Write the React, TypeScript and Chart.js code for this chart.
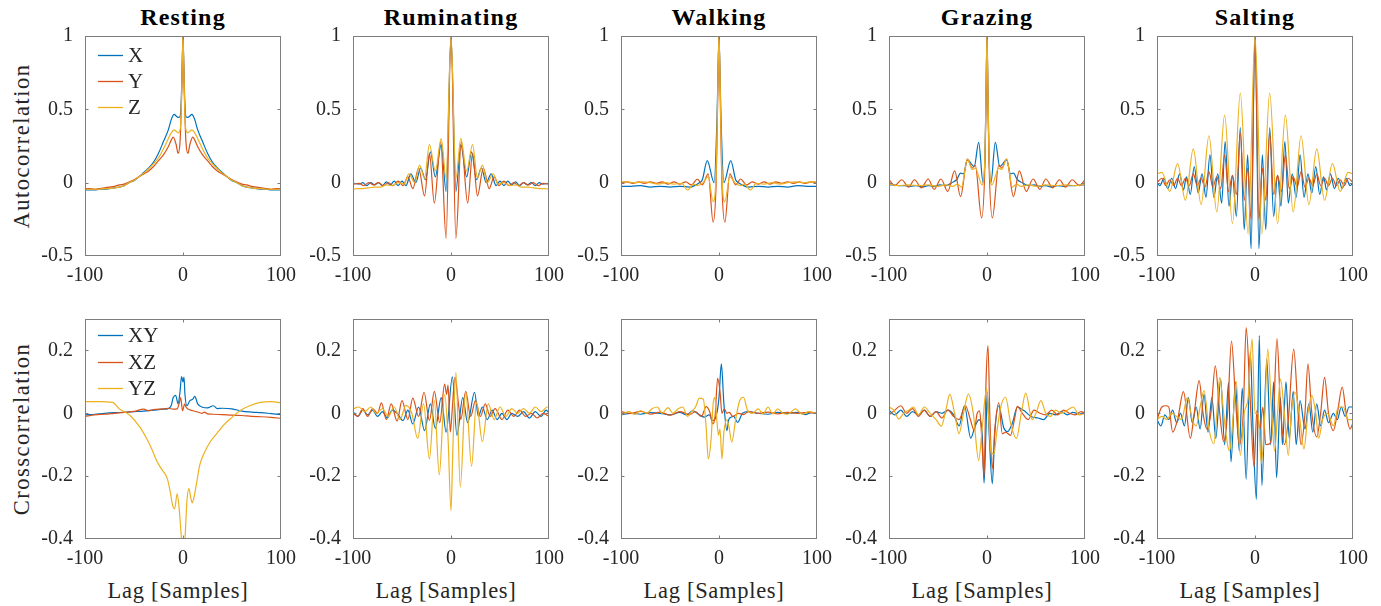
import React, { useEffect, useRef } from "react";
import { Chart, registerables } from "chart.js";

Chart.register(...registerables);

// ---------- labels / ticks ----------
const titles = ["Resting", "Ruminating", "Walking", "Grazing", "Salting"];
const autoLegend = ["X", "Y", "Z"];
const crossLegend = ["XY", "XZ", "YZ"];
const yAxisLabels = ["Autocorrelation", "Crosscorrelation"];
const xAxisLabel = "Lag [Samples]";
const xTickValues = [-100, 0, 100];
const autoYTicks = [-0.5, 0, 0.5, 1];
const crossYTicks = [-0.4, -0.2, 0, 0.2];
const COLORS = ["#0072BD", "#D95319", "#EDB120"];

// ---------- autocorrelation (symmetric, listed for lag >= 0) [lag, value] ----------
const restingX = [[0,1],[1,0.75],[2,0.52],[3,0.45],[5,0.445],[7,0.455],[9,0.466],[12,0.43],[15,0.36],[20,0.28],[25,0.2],[30,0.14],[35,0.1],[40,0.07],[45,0.04],[50,0.014],[55,0.0],[60,-0.02],[65,-0.03],[70,-0.035],[75,-0.04],[80,-0.045],[85,-0.045],[90,-0.05],[95,-0.05],[100,-0.05]];
const restingY = [[0,1],[1,0.7],[2,0.45],[3,0.28],[5,0.2],[7,0.26],[10,0.31],[12,0.29],[15,0.245],[20,0.19],[25,0.15],[30,0.11],[35,0.08],[40,0.06],[45,0.04],[50,0.02],[55,0.005],[60,-0.01],[65,-0.015],[70,-0.025],[75,-0.03],[80,-0.035],[85,-0.04],[90,-0.045],[95,-0.04],[100,-0.04]];
const restingZ = [[0,1],[1,0.72],[2,0.45],[3,0.36],[5,0.34],[7,0.35],[9,0.36],[12,0.34],[15,0.3],[20,0.23],[25,0.17],[30,0.13],[35,0.095],[40,0.065],[45,0.04],[50,0.015],[55,0.0],[60,-0.02],[65,-0.03],[70,-0.035],[75,-0.04],[80,-0.04],[85,-0.045],[90,-0.045],[95,-0.045],[100,-0.045]];

const rumX = [[0,1],[5,-0.06],[10,0.26],[16,0.04],[21,0.21],[26,0.02],[31,0.1],[36,0.0],[41,0.06],[46,-0.02],[50,0.01],[54,-0.02],[58,0.01],[62,-0.015],[66,0.005],[70,-0.02],[74,0.0],[78,-0.015],[82,0.0],[86,-0.02],[90,0.0],[94,-0.01],[98,-0.005],[100,-0.01]];
const rumY = [[0,1],[5,-0.38],[10.5,0.28],[17,-0.14],[22,0.2],[27,-0.09],[33,0.1],[39,-0.04],[44,0.04],[49,-0.02],[54,0.01],[59,-0.02],[64,0.0],[69,-0.02],[74,0.0],[79,-0.015],[84,0.0],[89,-0.02],[94,-0.005],[100,-0.01]];
const rumZ = [[0,1],[5,0.03],[10,0.3],[16,0.08],[22,0.26],[27,0.03],[32,0.12],[37,0.0],[43,0.06],[48,-0.01],[54,0.0],[60,-0.02],[66,-0.015],[72,-0.03],[78,-0.03],[84,-0.035],[90,-0.04],[96,-0.04],[100,-0.045]];

const walkX = [[0,1],[1,0.75],[2,0.45],[5,0.0],[12,0.15],[17,0.02],[20,0.0],[25,-0.02],[30,-0.03],[40,-0.025],[50,-0.03],[60,-0.025],[70,-0.03],[80,-0.02],[90,-0.025],[100,-0.025]];
const walkY = [[0,1],[1,0.7],[2,0.3],[3,-0.02],[6,-0.27],[11,0.06],[17,-0.015],[22,0.025],[28,-0.015],[34,0.005],[40,-0.01],[46,0.005],[52,-0.01],[58,0.005],[64,-0.005],[70,0.005],[76,-0.005],[82,0.005],[88,-0.005],[94,0.005],[100,0.0]];
const walkZ = [[0,1],[1,0.72],[2,0.35],[3,0.05],[6,-0.13],[11,0.04],[17,-0.005],[22,-0.02],[26,-0.01],[32,-0.05],[38,-0.005],[46,-0.01],[54,0.0],[62,-0.01],[70,0.0],[78,0.005],[86,0.0],[94,0.005],[100,0.005]];

const grazX = [[0,1],[1,0.6],[2,0.2],[4,0.0],[8.5,0.275],[13,0.11],[20,0.155],[24,0.06],[27,0.065],[31,0.02],[36,0.0],[42,-0.02],[48,-0.015],[54,-0.025],[60,-0.02],[66,-0.03],[72,-0.02],[78,-0.025],[84,-0.02],[90,-0.02],[96,-0.015],[100,-0.015]];
const grazY = [[0,1],[1,0.55],[2,0.15],[5.5,-0.24],[12,0.12],[15,0.1],[20,0.16],[27,-0.095],[33,0.08],[40,-0.06],[47,0.025],[54,-0.045],[60,0.025],[67,-0.035],[74,0.02],[80,-0.03],[87,0.02],[94,-0.02],[100,0.02]];
const grazZ = [[0,1],[1,0.6],[2,0.2],[5,-0.015],[12,0.1],[15,0.09],[20,0.16],[26,-0.03],[30,-0.01],[35,-0.025],[42,-0.015],[50,-0.025],[60,-0.015],[70,-0.02],[80,-0.015],[90,-0.02],[100,-0.01]];

const saltX = [[0,1],[4,-0.45],[7.5,0.19],[11,-0.32],[15,0.375],[19,-0.23],[23,0.05],[26.5,-0.16],[30.5,0.28],[34,-0.14],[38,0.06],[42,-0.1],[46,0.19],[50,-0.1],[54,0.06],[58,-0.07],[62,0.11],[66,-0.08],[70,0.04],[73,-0.05],[77,0.06],[81,-0.04],[85,0.03],[89,-0.04],[93,0.03],[97,-0.02],[100,0.0]];
const saltY = [[0,1],[4,-0.25],[7.5,0.1],[11,-0.12],[15,0.34],[19,-0.08],[23,0.05],[27,-0.06],[31,0.19],[35,-0.04],[39,0.04],[43,-0.03],[47,0.075],[51,-0.03],[55,0.03],[59,-0.02],[63,0.06],[67,-0.02],[71,0.03],[75,-0.02],[79,0.03],[83,-0.02],[87,0.02],[91,-0.02],[95,0.03],[100,0.0]];
const saltZ = [[0,1],[7,-0.35],[15,0.61],[23,-0.28],[31,0.46],[39,-0.2],[47,0.32],[55,-0.15],[63,0.23],[71,-0.12],[79,0.13],[87,-0.06],[95,0.07],[100,0.06]];

// ---------- crosscorrelation [lag, value] ----------
const restingXY = [[-100,-0.005],[-90,-0.003],[-80,0.0],[-70,0.002],[-60,0.003],[-50,0.005],[-40,0.007],[-30,0.01],[-20,0.013],[-15,0.015],[-12,0.025],[-10,0.05],[-7.5,0.057],[-5,0.03],[-3,0.07],[-1.5,0.117],[0,0.1],[1,0.115],[2,0.06],[4,0.024],[7,0.04],[10,0.045],[12,0.054],[15,0.03],[20,0.019],[25,0.017],[31,0.024],[35,0.015],[40,0.016],[50,0.014],[60,0.007],[70,0.004],[80,0.002],[90,-0.001],[100,-0.004]];
const restingXZ = [[-100,-0.01],[-90,-0.005],[-80,-0.003],[-70,0.0],[-60,0.003],[-50,0.006],[-40,0.013],[-35,0.008],[-30,0.012],[-20,0.014],[-15,0.016],[-10,0.013],[-6,0.014],[-4,0.03],[-2.4,0.05],[-0.5,0.008],[1.7,0.03],[3,0.02],[5,0.014],[10,0.008],[15,0.004],[19,0.0],[22,0.004],[25,-0.002],[30,-0.003],[40,-0.004],[50,-0.006],[60,-0.007],[70,-0.01],[80,-0.011],[90,-0.013],[100,-0.016]];
const restingYZ = [[-100,0.037],[-85,0.037],[-72,0.035],[-65,0.014],[-54,-0.007],[-44,-0.044],[-37,-0.081],[-32,-0.113],[-27,-0.15],[-22,-0.177],[-16,-0.208],[-13,-0.25],[-10.5,-0.294],[-8.5,-0.304],[-6,-0.256],[-4,-0.3],[-2,-0.38],[0,-0.45],[2,-0.4],[4,-0.28],[6,-0.24],[8,-0.27],[9.5,-0.285],[11,-0.27],[14,-0.22],[17,-0.166],[22,-0.124],[27.5,-0.092],[34,-0.066],[41,-0.039],[50,-0.013],[58,0.008],[68,0.024],[79,0.035],[90,0.037],[100,0.033]];

const rumXY = [[-100,0.005],[-95,-0.01],[-90,0.01],[-85,-0.005],[-80,0.01],[-75,-0.01],[-70,0.005],[-65,-0.015],[-60,0.01],[-55,0.0],[-49,-0.023],[-44,0.01],[-39,-0.034],[-33,0.02],[-27,-0.055],[-21,0.03],[-16,-0.048],[-10,0.05],[-5,-0.06],[1.4,0.116],[6,-0.07],[12,0.05],[17,-0.03],[24,0.067],[28,-0.01],[32,0.02],[37,-0.02],[42,0.01],[47,-0.02],[52,0.0],[57,-0.02],[62,0.0],[68,-0.01],[74,0.005],[80,-0.015],[86,0.005],[92,-0.01],[97,0.01],[100,0.0]];
const rumXZ = [[-100,0.0],[-95,-0.01],[-90,0.015],[-85,-0.01],[-80,0.015],[-75,0.0],[-71,0.033],[-66,-0.02],[-61,0.03],[-55,-0.025],[-50,0.04],[-44,-0.02],[-39,0.048],[-33,-0.01],[-27.5,0.067],[-22,-0.023],[-17,0.07],[-11.5,-0.03],[-6.5,0.093],[-4.5,0.06],[-3,0.09],[-0.7,-0.06],[1,0.0],[4,0.114],[8,0.02],[10,-0.02],[15,0.07],[20,-0.01],[25,0.04],[30,-0.01],[35,0.03],[40,-0.01],[45,0.015],[52,-0.02],[58,0.01],[64,-0.01],[70,0.01],[76,-0.01],[82,0.0],[88,-0.015],[94,0.0],[100,-0.01]];
const rumYZ = [[-100,0.014],[-94,0.02],[-88,0.005],[-82,0.02],[-76,0.0],[-70,0.015],[-64,-0.01],[-58,0.02],[-52,-0.02],[-46,0.025],[-40,0.0],[-34,-0.08],[-28,0.03],[-22,-0.145],[-17,0.04],[-12,-0.196],[-6.5,0.06],[-3,-0.08],[0,-0.31],[2,-0.1],[5,0.13],[9.5,-0.235],[15,0.067],[21,-0.168],[26,0.035],[32,-0.09],[38,0.03],[44,-0.02],[50,0.02],[56,-0.01],[62,0.015],[68,0.0],[74,0.015],[80,0.0],[86,0.02],[92,0.005],[98,0.02],[100,0.02]];

const walkXY = [[-100,-0.005],[-90,0.0],[-80,-0.003],[-70,0.002],[-60,0.0],[-50,-0.005],[-40,0.003],[-33,-0.005],[-27,0.008],[-20,-0.005],[-15,-0.012],[-10,-0.005],[-6.5,-0.023],[-3,-0.01],[0,0.05],[2.4,0.157],[5,0.03],[8,-0.055],[10,-0.02],[12,-0.013],[15,-0.01],[19,-0.029],[24,0.0],[30,0.005],[40,0.0],[50,-0.003],[60,0.003],[70,0.0],[80,0.003],[88,-0.004],[94,0.002],[100,0.0]];
const walkXZ = [[-100,0.005],[-90,0.0],[-80,0.006],[-70,-0.003],[-60,0.004],[-50,-0.006],[-40,0.005],[-30,-0.004],[-24,0.005],[-18,-0.01],[-13,0.021],[-9,0.0],[-6.5,-0.034],[-4,-0.01],[-1.4,0.111],[1,0.07],[3,0.0],[5.4,0.014],[8,0.0],[10.5,0.003],[14,-0.01],[20,0.0],[25,-0.004],[30,0.005],[40,0.0],[50,0.004],[60,-0.002],[70,0.003],[80,0.0],[90,0.003],[100,0.0]];
const walkYZ = [[-100,-0.005],[-92,0.005],[-86,-0.003],[-80,0.008],[-74,0.0],[-68,0.015],[-63,0.02],[-58,0.0],[-52,0.018],[-47,0.0],[-42,0.014],[-37,0.02],[-32,-0.01],[-28,0.005],[-24,0.02],[-20,0.048],[-16,0.045],[-13,-0.05],[-11,-0.145],[-8,-0.08],[-6,0.03],[-4.4,0.051],[-2,-0.03],[-0.5,-0.07],[1,-0.05],[3,-0.145],[5,-0.06],[8,-0.02],[10,-0.04],[13,-0.092],[17,-0.02],[21,0.04],[25,0.051],[29,0.01],[34,0.0],[40,0.014],[45,-0.002],[50,0.02],[55,-0.002],[60,0.014],[65,0.0],[70,-0.003],[78,0.014],[85,-0.003],[92,0.005],[100,-0.002]];

const grazXY = [[-100,0.01],[-94,-0.005],[-88,0.01],[-82,-0.01],[-76,0.005],[-70,-0.005],[-64,0.01],[-58,-0.01],[-52,0.005],[-46,0.0],[-40,0.01],[-34,-0.005],[-28.5,-0.04],[-23,0.024],[-16.6,-0.079],[-12,-0.04],[-8,-0.02],[-5,-0.06],[-3,-0.222],[-1,-0.05],[0.3,0.067],[2,-0.05],[5.4,-0.224],[8,-0.06],[12,0.024],[17,-0.045],[21,-0.058],[26,-0.03],[31,0.02],[38,0.008],[45,-0.01],[52,-0.015],[58,-0.02],[64,0.0],[70,-0.005],[76,0.005],[82,-0.005],[88,0.003],[94,-0.003],[100,0.005]];
const grazXZ = [[-100,-0.005],[-94,0.01],[-88,0.024],[-82,0.0],[-76,0.015],[-70,-0.01],[-64,0.01],[-58,-0.01],[-52,0.005],[-46,-0.015],[-40,0.01],[-34,-0.01],[-28.5,-0.02],[-22,0.024],[-17,-0.02],[-13,-0.055],[-10,0.0],[-7.5,0.008],[-5,-0.1],[-3,-0.2],[-1,0.1],[1,0.215],[3,-0.02],[5.4,-0.177],[8,-0.05],[12,0.033],[15.6,-0.065],[19,-0.06],[24,-0.07],[28,-0.02],[31,0.022],[36,0.0],[42,-0.02],[48,0.01],[54,0.0],[60,-0.005],[66,0.01],[72,-0.005],[78,0.01],[84,0.0],[90,-0.005],[96,0.005],[100,0.0]];
const grazYZ = [[-100,0.02],[-95,0.01],[-90,-0.018],[-85,0.0],[-80,0.01],[-75,0.02],[-70,-0.005],[-64,0.02],[-58,0.0],[-52,-0.02],[-46.6,-0.041],[-42,0.01],[-38,0.06],[-33,0.0],[-28.5,-0.065],[-24,0.0],[-19,0.061],[-14,0.0],[-8.5,-0.15],[-5,-0.05],[-2,0.05],[-0.3,0.079],[2,-0.03],[4,-0.12],[7,-0.13],[10,-0.06],[14,0.02],[19,0.051],[24,-0.03],[30,-0.08],[35,0.0],[39.5,0.064],[46,-0.02],[50,0.0],[55,0.04],[60,0.0],[65,-0.01],[70,0.01],[76,0.0],[82,0.01],[88,0.02],[94,-0.005],[100,0.0]];

const saltXY = [[-100,-0.02],[-96,-0.04],[-92,-0.005],[-88,-0.02],[-84,0.01],[-80,-0.03],[-76,0.0],[-72,-0.04],[-68,0.05],[-64,-0.03],[-60,0.02],[-56,-0.05],[-52,0.06],[-48,-0.06],[-44,0.05],[-40,-0.08],[-35,0.109],[-31,-0.1],[-27,0.098],[-24.5,-0.155],[-20,0.1],[-16,-0.12],[-13,0.08],[-9,-0.21],[-4.8,0.194],[-2,-0.05],[1.4,-0.274],[4.4,0.247],[7,-0.23],[12,0.172],[16,-0.1],[19,0.1],[22,-0.205],[26,0.05],[28,-0.1],[31.6,0.1],[35,-0.08],[39,0.07],[42,-0.1],[46,0.04],[51,-0.05],[55,0.03],[59,-0.06],[63,0.03],[67,-0.04],[71,0.01],[75,-0.03],[80,0.0],[84,-0.02],[88,0.02],[92,-0.01],[96,0.02],[100,0.02]];
const saltXZ = [[-100,-0.02],[-95,0.02],[-91,0.024],[-88,0.02],[-84,-0.06],[-79,-0.02],[-73,0.069],[-66,-0.08],[-62,0.0],[-57,0.104],[-53,0.0],[-49,-0.05],[-45,0.0],[-40.5,0.151],[-36,0.0],[-32,-0.09],[-28,0.0],[-24,0.23],[-20,0.05],[-16,-0.1],[-12,0.0],[-9,0.273],[-5,0.05],[-1,-0.17],[2,0.01],[5,-0.05],[8,0.02],[11,-0.1],[15,-0.097],[19,0.0],[22.4,0.238],[26,0.02],[30,-0.1],[34,-0.02],[39.5,0.204],[44,0.0],[47,-0.1],[51,0.0],[54,0.157],[58,0.0],[63,-0.075],[67,0.0],[71,0.114],[75,0.0],[80,-0.055],[84,0.0],[89,0.083],[93,0.0],[97,-0.05],[100,-0.03]];
const saltYZ = [[-100,-0.02],[-95,-0.01],[-90,-0.02],[-85,0.0],[-80,-0.01],[-75,-0.02],[-69,0.05],[-64,-0.02],[-60,-0.04],[-56,0.02],[-52,0.072],[-47,-0.05],[-42,-0.097],[-39,0.0],[-36,0.114],[-32,0.0],[-28,-0.1],[-26,-0.12],[-22,0.0],[-19,0.1],[-15,-0.134],[-11,0.0],[-7,0.05],[-3,0.236],[0,0.0],[3,0.0],[6.5,-0.16],[10,0.0],[13,0.204],[17,0.0],[20,-0.12],[23,0.0],[26,0.109],[30,0.0],[34,-0.134],[37,0.0],[41,0.067],[45,0.0],[50,-0.113],[54,0.0],[58,0.056],[62,0.0],[65,-0.08],[69,-0.02],[74,0.0],[80,-0.04],[85,0.02],[90,0.02],[95,-0.02],[100,-0.02]];

const autoPanels = [
  [restingX, restingY, restingZ],
  [rumX, rumY, rumZ],
  [walkX, walkY, walkZ],
  [grazX, grazY, grazZ],
  [saltX, saltY, saltZ],
];
const crossPanels = [
  [restingXY, restingXZ, restingYZ],
  [rumXY, rumXZ, rumYZ],
  [walkXY, walkXZ, walkYZ],
  [grazXY, grazXZ, grazYZ],
  [saltXY, saltXZ, saltYZ],
];

// ---------- layout ----------
const PLOT_LEFTS = [85, 353, 621, 889, 1157];
const PLOT_TOPS = [36, 319];
const PLOT_W = 196;
const PLOT_H = 220;
const PAD_L = 70;
const PAD_T = 12;
const PAD_R = 22;
const PAD_B = 40;
const CANVAS_W = PAD_L + PLOT_W + PAD_R;
const CANVAS_H = PAD_T + PLOT_H + PAD_B;
const SERIF = "'Liberation Serif', 'Times New Roman', serif";
const TEXT = "#262626";

const mirror = (pts: number[][]) => {
  const out: { x: number; y: number }[] = [];
  for (let i = pts.length - 1; i > 0; i--) out.push({ x: -pts[i][0], y: pts[i][1] });
  for (let i = 0; i < pts.length; i++) out.push({ x: pts[i][0], y: pts[i][1] });
  return out;
};
const toXY = (pts: number[][]) => pts.map(([x, y]) => ({ x, y }));
const fmt = (v: number) => String(Math.round(v * 10) / 10);

const framePlugin = {
  id: "frame",
  afterDatasetsDraw(chart: any) {
    const { ctx, chartArea: a, scales } = chart;
    ctx.save();
    ctx.strokeStyle = "#7d7d7d";
    ctx.lineWidth = 1;
    const L = Math.round(a.left) + 0.5;
    const R = Math.round(a.right) - 0.5;
    const T = Math.round(a.top) + 0.5;
    const B = Math.round(a.bottom) - 0.5;
    ctx.strokeRect(L, T, R - L, B - T);
    const tl = 3;
    ctx.beginPath();
    scales.x.ticks.forEach((t: any) => {
      const px = Math.round(scales.x.getPixelForValue(t.value)) + 0.5;
      if (px - L < 2 || R - px < 2) return;
      ctx.moveTo(px, B); ctx.lineTo(px, B - tl);
      ctx.moveTo(px, T); ctx.lineTo(px, T + tl);
    });
    scales.y.ticks.forEach((t: any) => {
      const py = Math.round(scales.y.getPixelForValue(t.value)) + 0.5;
      if (py - T < 2 || B - py < 2) return;
      ctx.moveTo(L, py); ctx.lineTo(L + tl, py);
      ctx.moveTo(R, py); ctx.lineTo(R - tl, py);
    });
    ctx.stroke();
    ctx.restore();
  },
};

const legendPlugin = {
  id: "miniLegend",
  afterDatasetsDraw(chart: any, _args: any, opts: any) {
    if (!opts || !opts.show) return;
    const { ctx, chartArea: a } = chart;
    ctx.save();
    ctx.font = `21px ${SERIF}`;
    ctx.textBaseline = "middle";
    ctx.textAlign = "left";
    opts.labels.forEach((lab: string, i: number) => {
      const y = a.top + opts.offsets[i];
      ctx.strokeStyle = COLORS[i];
      ctx.lineWidth = 1.3;
      ctx.beginPath();
      ctx.moveTo(a.left + 13, y + 0.5);
      ctx.lineTo(a.left + 38, y + 0.5);
      ctx.stroke();
      ctx.fillStyle = TEXT;
      ctx.fillText(lab, a.left + 43, y + 1);
    });
    ctx.restore();
  },
};

function Panel({ row, col }: { row: number; col: number }) {
  const ref = useRef<HTMLCanvasElement | null>(null);
  useEffect(() => {
    if (!ref.current) return;
    const series = row === 0 ? autoPanels[col] : crossPanels[col];
    const names = row === 0 ? autoLegend : crossLegend;
    const yTicks = row === 0 ? autoYTicks : crossYTicks;
    const datasets = series.map((pts, i) => ({
      label: names[i],
      data: row === 0 ? mirror(pts) : toXY(pts),
      borderColor: COLORS[i],
      backgroundColor: COLORS[i],
      borderWidth: 1.2,
      pointRadius: 0,
      fill: false,
      order: 2 - i,
      cubicInterpolationMode: "monotone" as const,
    }));
    const tickFont = { family: SERIF, size: 20 };
    const chart = new Chart(ref.current, {
      type: "line",
      data: { datasets },
      options: {
        animation: false,
        responsive: false,
        maintainAspectRatio: false,
        devicePixelRatio: 1,
        layout: { padding: { top: PAD_T, right: PAD_R, left: 0, bottom: 0 } },
        plugins: {
          legend: { display: false },
          tooltip: { enabled: false },
          title: { display: false },
          miniLegend: {
            show: col === 0,
            labels: names,
            offsets: row === 0 ? [19, 45, 71] : [16, 43, 69],
          },
        } as any,
        scales: {
          x: {
            type: "linear",
            min: -100,
            max: 100,
            afterBuildTicks: (s: any) => { s.ticks = xTickValues.map((v) => ({ value: v })); },
            afterFit: (s: any) => { s.height = PAD_B; s.paddingLeft = 0; s.paddingRight = 0; },
            grid: { display: false, drawTicks: false },
            border: { display: false },
            ticks: { font: tickFont, color: TEXT, padding: 8, maxRotation: 0, autoSkip: false, callback: (v: any) => fmt(Number(v)) },
          },
          y: {
            type: "linear",
            min: yTicks[0],
            max: row === 0 ? 1 : 0.3,
            afterBuildTicks: (s: any) => { s.ticks = yTicks.map((v) => ({ value: v })); },
            afterFit: (s: any) => { s.width = PAD_L; s.paddingTop = 0; s.paddingBottom = 0; },
            grid: { display: false, drawTicks: false },
            border: { display: false },
            ticks: { font: tickFont, color: TEXT, padding: 12, autoSkip: false, callback: (v: any) => fmt(Number(v)) },
          },
        },
      },
      plugins: [framePlugin, legendPlugin],
    });
    return () => chart.destroy();
  }, [row, col]);
  return (
    <canvas
      ref={ref}
      width={CANVAS_W}
      height={CANVAS_H}
      style={{
        position: "absolute",
        left: PLOT_LEFTS[col] - PAD_L,
        top: PLOT_TOPS[row] - PAD_T,
        width: CANVAS_W,
        height: CANVAS_H,
      }}
    />
  );
}

export default function App() {
  const panels: JSX.Element[] = [];
  for (let r = 0; r < 2; r++) for (let c = 0; c < 5; c++) panels.push(<Panel key={`${r}-${c}`} row={r} col={c} />);
  return (
    <div style={{ position: "absolute", left: 0, top: 0, width: 1381, height: 606, background: "#fff", fontFamily: SERIF, color: TEXT, overflow: "hidden" }}>
      {titles.map((t, c) => (
        <div key={t} style={{ position: "absolute", left: PLOT_LEFTS[c], top: 6, width: PLOT_W, textAlign: "center", fontWeight: "bold", fontSize: 24, lineHeight: "23px", letterSpacing: 1.2, color: "#000" }}>{t}</div>
      ))}
      {yAxisLabels.map((t, r) => (
        <div key={t} style={{ position: "absolute", left: 21, top: PLOT_TOPS[r] + PLOT_H / 2, transform: "translate(-50%, -50%) rotate(-90deg)", whiteSpace: "nowrap", fontSize: 22.5, lineHeight: "23px", letterSpacing: 1.5 }}>{t}</div>
      ))}
      {PLOT_LEFTS.map((l, c) => (
        <div key={c} style={{ position: "absolute", left: l - 5, top: 580, width: PLOT_W, textAlign: "center", fontSize: 22.5, lineHeight: "22px", letterSpacing: 0.7, whiteSpace: "nowrap" }}>{xAxisLabel}</div>
      ))}
      {panels}
    </div>
  );
}
